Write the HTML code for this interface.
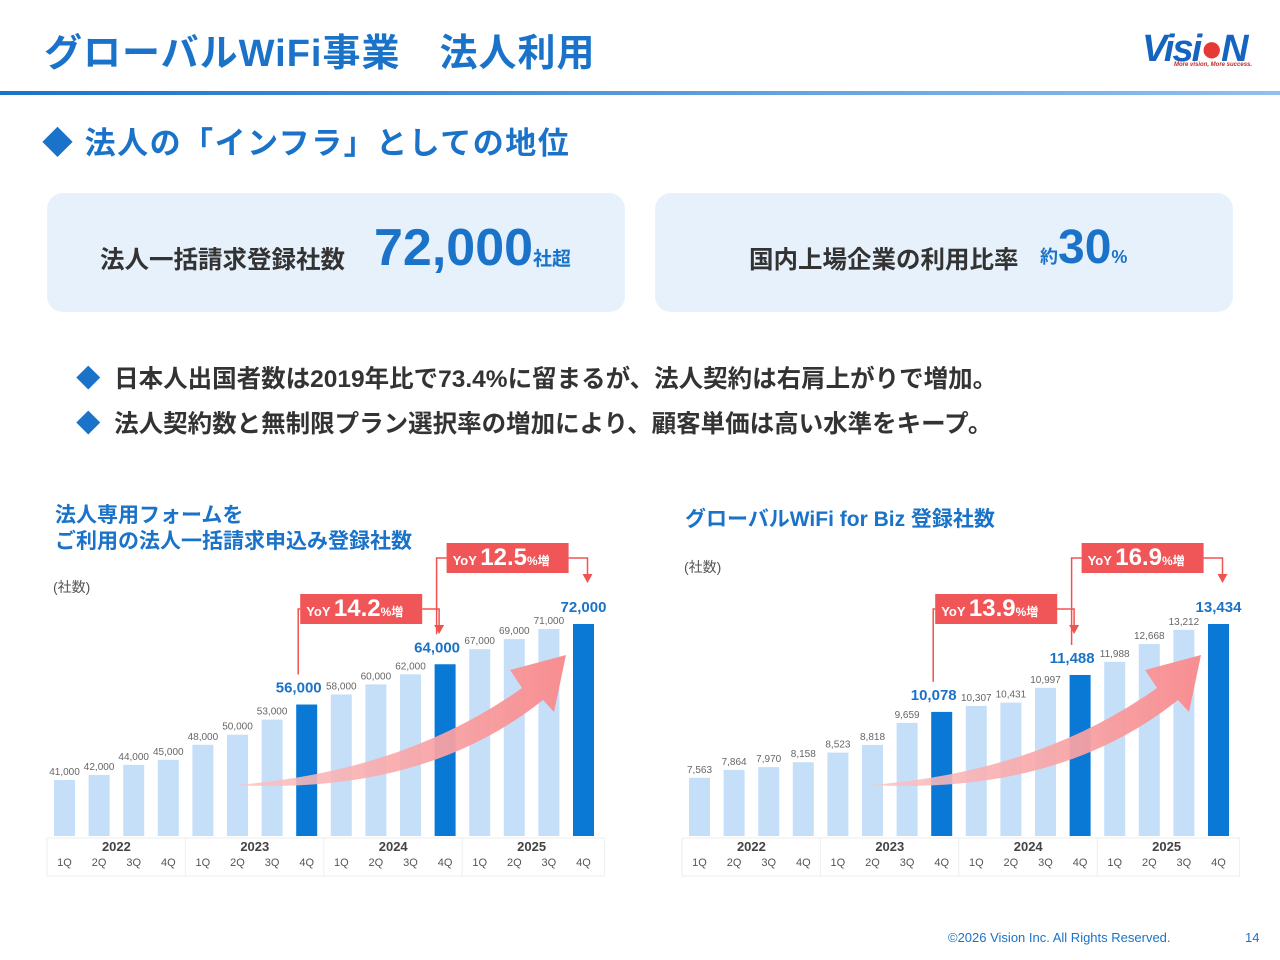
<!DOCTYPE html>
<html><head><meta charset="utf-8"><style>
body{margin:0;width:1280px;height:960px;background:#fff;font-family:"Liberation Sans","Noto Sans CJK JP",sans-serif;position:relative;overflow:hidden}
.a{position:absolute;white-space:nowrap}
.card{position:absolute;top:193px;height:119px;width:578px;background:#e6f1fb;border-radius:16px}
</style></head><body>
<div class="a" style="left:44px;top:22px;font-size:38px;font-weight:bold;color:#1a73c8;letter-spacing:1px">グローバルWiFi事業　法人利用</div>
<div class="a" style="left:1142px;top:28px;width:125px;height:44px">
<div class="a" style="left:0;top:0;font-size:38px;font-weight:bold;font-style:italic;color:#1565c0;letter-spacing:-2px">Visi<span style="color:#e53935">●</span>N</div>
<div class="a" style="left:32px;top:34px;font-size:6px;font-style:italic;font-weight:bold;color:#c62828">More vision, More success.</div></div>
<div class="a" style="left:0;top:91px;width:1280px;height:4px;background:linear-gradient(90deg,#1a73c8,#8fc0ef)"></div>
<div class="a" style="left:42px;top:118px;font-size:31px;font-weight:bold;color:#1a73c8;letter-spacing:1.5px">◆ 法人の「インフラ」としての地位</div>
<div class="card" style="left:47px">
<div class="a" style="left:53px;top:48px;font-size:24.5px;font-weight:bold;color:#333">法人一括請求登録社数</div>
<div class="a" style="left:327px;top:25px;font-size:52px;font-weight:bold;color:#1a73c8">72,000<span style="font-size:19px">社超</span></div></div>
<div class="card" style="left:655px">
<div class="a" style="left:94px;top:48px;font-size:24.5px;font-weight:bold;color:#333">国内上場企業の利用比率</div>
<div class="a" style="left:385px;top:27px;font-size:18px;font-weight:bold;color:#1a73c8">約<span style="font-size:48px">30</span>%</div></div>
<div class="a" style="left:76px;top:360px;font-size:24.5px;font-weight:bold;color:#333"><span style="color:#1a73c8">◆</span>&nbsp; 日本人出国者数は2019年比で73.4%に留まるが、法人契約は右肩上がりで増加。</div>
<div class="a" style="left:76px;top:405px;font-size:24.5px;font-weight:bold;color:#333"><span style="color:#1a73c8">◆</span>&nbsp; 法人契約数と無制限プラン選択率の増加により、顧客単価は高い水準をキープ。</div>
<div class="a" style="left:55px;top:503px;font-size:21px;font-weight:bold;color:#1a73c8;line-height:26px">法人専用フォームを<br>ご利用の法人一括請求申込み登録社数</div>
<div class="a" style="left:685px;top:503px;font-size:21px;font-weight:bold;color:#1a73c8">グローバルWiFi for Biz 登録社数</div>
<div class="a" style="left:53px;top:577px;font-size:14px;color:#555">(社数)</div>
<div class="a" style="left:684px;top:557px;font-size:14px;color:#555">(社数)</div>
<svg id="s" width="1280" height="960" style="position:absolute;left:0;top:0">
<defs><linearGradient id="g" x1="0" x2="1" y1="0" y2="0"><stop offset="0" stop-color="#fbc3c4" stop-opacity="0.85"/><stop offset="1" stop-color="#f78e91"/></linearGradient></defs>
</svg>
<div class="a" style="left:948px;top:930px;font-size:13px;color:#1a73c8">©2026 Vision Inc. All Rights Reserved.</div>
<div class="a" style="left:1245px;top:930px;font-size:13px;color:#1a73c8">14</div>
<script>
const years=["2022","2023","2024","2025"];
const quarters=["1Q","2Q","3Q","4Q"];
const leftValues=[41000,42000,44000,45000,48000,50000,53000,56000,58000,60000,62000,64000,67000,69000,71000,72000];
const rightValues=[7563,7864,7970,8158,8523,8818,9659,10078,10307,10431,10997,11488,11988,12668,13212,13434];
const leftYoY=["14.2","12.5"];
const rightYoY=["13.9","16.9"];
const S=document.getElementById('s');const NS='http://www.w3.org/2000/svg';
function mk(t,a,txt){const e=document.createElementNS(NS,t);for(const k in a)e.setAttribute(k,a[k]);if(txt!=null)e.textContent=txt;S.appendChild(e);return e;}
function chart(ox,vals,ymin,ymax,yoy,fmtName){
 const base=836,pitch=34.6,bw=21;
 const sc=v=>base-(v-ymin)*(212/(ymax-ymin));
 const x=i=>ox+i*pitch;
 let r=mk('rect',{x:ox-7,y:838,width:pitch*16+4,height:38,fill:'none',stroke:'#eee'});
 
 vals.forEach((v,i)=>{
  const hi=i%4==3&&i>=7;
  const b=mk('rect',{x:x(i),y:sc(v),width:bw,height:base-sc(v),fill:hi?'#0a79d6':'#c5dff8'});
  
  const t=mk('text',{x:x(i)+bw/2+(hi&&i<15?-8:0),y:sc(v)-(hi?12:5),'text-anchor':'middle','font-size':hi?15:10,'font-weight':hi?'bold':'normal',fill:hi?'#1a73c8':'#666'},v.toLocaleString('en-US'));
  
  const q=mk('text',{x:x(i)+bw/2,y:866,'text-anchor':'middle','font-size':11,fill:'#555'},quarters[i%4]);
  
 });
 years.forEach((yr,k)=>{
  const t=mk('text',{x:x(k*4)+1.5*pitch+bw/2,y:851,'text-anchor':'middle','font-size':13,'font-weight':'bold',fill:'#444'},yr);
  
  if(k>0){mk('line',{x1:x(k*4)-7,x2:x(k*4)-7,y1:838,y2:876,stroke:'#eee'});}
 });
 let ar=mk('path',{d:`M${ox+181},785 Q${ox+350},772 ${ox+468},688 L${ox+456},670 L${ox+512},655 L${ox+500},712 L${ox+489},700 Q${ox+370},795 ${ox+181},785 Z`,fill:'url(#g)'});
 
 [[7,11],[11,15]].forEach(([a,b],k)=>{
  const xa=x(a)+2,xb=x(b)+bw/2+(k==0?-6:4),ty=k==0?594:543;
  const bx=xa+(k==0?2:10), bwid=122;
  mk('polyline',{points:`${xa},${sc(vals[a])-30} ${xa},${ty+15} ${bx},${ty+15}`,fill:'none',stroke:'#ef5350','stroke-width':1.5});
  mk('polyline',{points:`${bx+bwid},${ty+15} ${xb},${ty+15} ${xb},${ty+32}`,fill:'none',stroke:'#ef5350','stroke-width':1.5});
  mk('path',{d:`M${xb-5},${ty+31} L${xb+5},${ty+31} L${xb},${ty+40} Z`,fill:'#ef5350'});
  const bxr=mk('rect',{x:bx,y:ty,width:bwid,height:30,fill:'#f05558'});
  
  const t=mk('text',{x:bx+6,y:ty+22,fill:'#fff','font-weight':'bold','font-size':13});
  t.innerHTML=`YoY <tspan font-size="24">${yoy[k]}</tspan><tspan font-size="12">%増</tspan>`;
  
 });
}
chart(54,leftValues,29870,72000,leftYoY,'left');
chart(689,rightValues,5340,13434,rightYoY,'right');
</script>
</body></html>
